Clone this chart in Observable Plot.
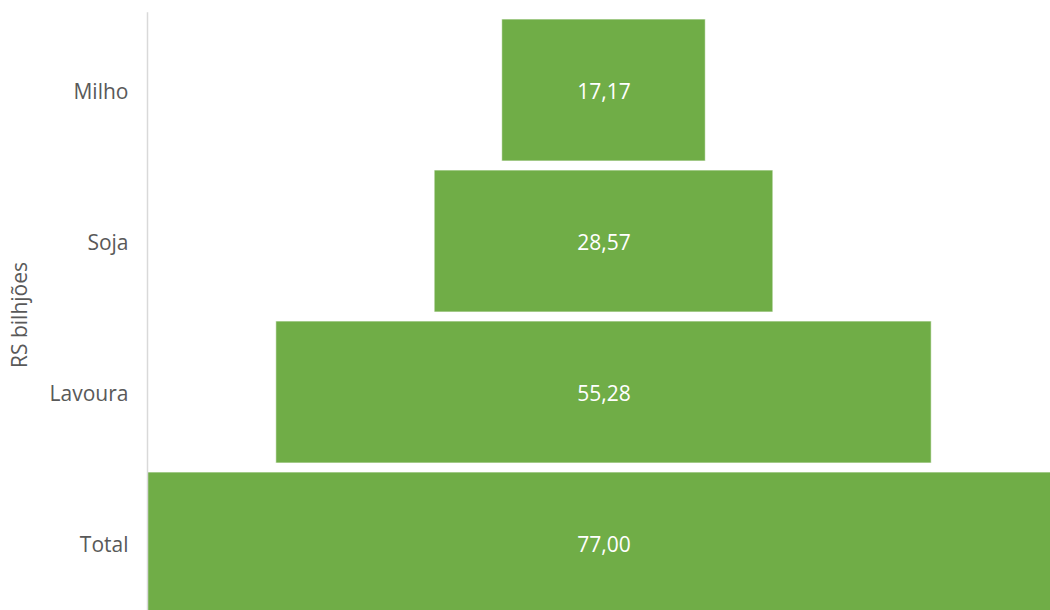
<!DOCTYPE html>
<html>
<head>
<meta charset="utf-8">
<script src="https://cdn.jsdelivr.net/npm/d3@7"></script>
<script src="https://cdn.jsdelivr.net/npm/@observablehq/plot@0.6"></script>
<style>
  html, body { margin: 0; padding: 0; overflow: hidden; background: #fff; width: 1050px; height: 610px; }
  #chart { width: 1050px; height: 610px; overflow: hidden; }
  #chart svg { max-width: none !important; display: block; }
</style>
</head>
<body>
<div id="chart"></div>
<script>
const categories = ["Milho", "Soja", "Lavoura", "Total"];
const values = [17.17, 28.57, 55.28, 77.00];
const axisTitle = "RS bilhjões";

const data = categories.map((c, i) => ({ category: c, value: values[i] }));
const maxV = d3.max(values);
const fmt = v => v.toFixed(2).replace(".", ",");
const font = "'Open Sans', sans-serif";

const chart = Plot.plot({
  width: 1060,
  height: 620.5,
  marginLeft: 147,
  marginRight: 0,
  marginTop: 12.5,
  marginBottom: 0,
  style: { fontFamily: font, fontSize: "21px", color: "#595959", background: "white" },
  x: { domain: [-maxV / 2, maxV / 2], axis: null },
  y: { domain: categories, paddingInner: 0.059, paddingOuter: 0.0296, label: null },
  marks: [
    Plot.barX(data, {
      x1: d => -d.value / 2,
      x2: d => d.value / 2,
      y: "category",
      fill: "#70AD47",
      stroke: "white",
      strokeWidth: 1,
      strokeOpacity: 0.7
    }),
    Plot.frame({ anchor: "left", stroke: "#d9d9d9", strokeWidth: 1.5 }),
    Plot.axisY({ tickSize: 0, tickPadding: 19, fontSize: 21, fill: "#595959", label: null, dy: 1.5 }),
    Plot.text(data, {
      x: 0,
      y: "category",
      text: d => fmt(d.value),
      fill: "white",
      fontSize: 21,
      dy: 1.5
    }),
    Plot.text([axisTitle], {
      frameAnchor: "left",
      textAnchor: "middle",
      dx: -127,
      dy: -2,
      rotate: -90,
      fill: "#595959",
      fontSize: 21
    })
  ]
});
chart.style.maxWidth = "none";
document.getElementById("chart").appendChild(chart);
</script>
</body>
</html>
